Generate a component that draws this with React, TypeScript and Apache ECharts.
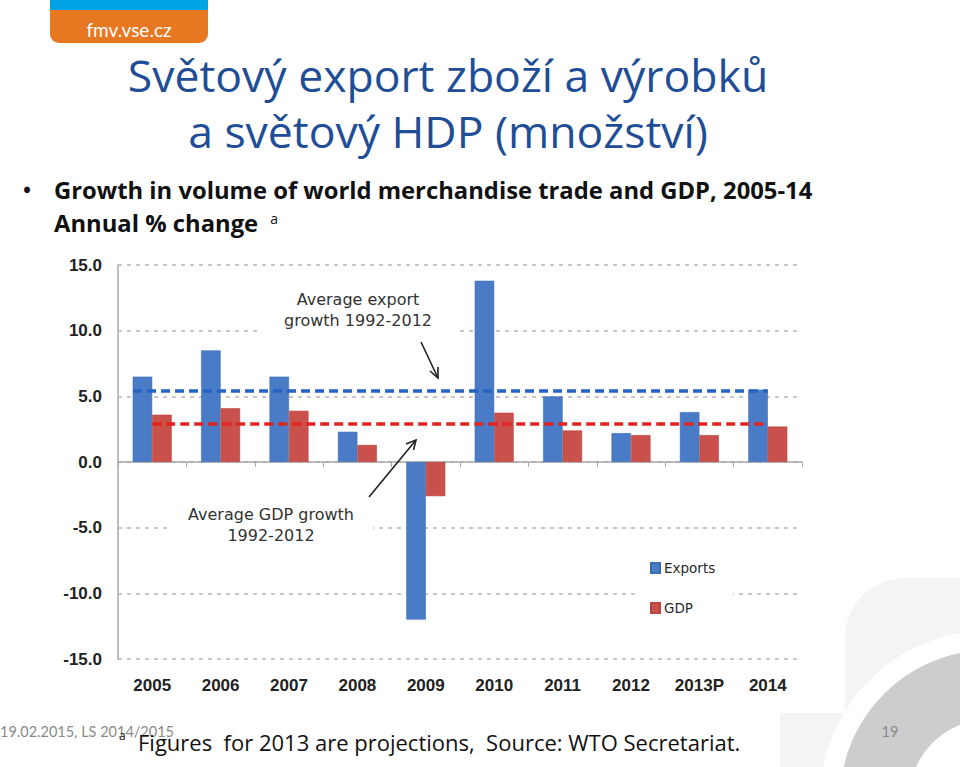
import React, { useEffect, useRef } from "react";
import * as echarts from "echarts";

const categories = ["2005", "2006", "2007", "2008", "2009", "2010", "2011", "2012", "2013P", "2014"];
const exportsGrowth = [6.5, 8.5, 6.5, 2.3, -12.0, 13.8, 5.0, 2.2, 3.8, 5.5];
const gdpGrowth = [3.6, 4.1, 3.9, 1.3, -2.6, 3.75, 2.4, 2.05, 2.05, 2.7];
const avgExportLine = [[-0.28, 5.4], [9.0, 5.4]];
const avgGdpLine = [[0.0, 2.9], [9.0, 2.9]];
const yMin = -15;
const yMax = 15;
const yStep = 5;

const BLUE = "#4a7bc6";
const RED = "#c9504b";
const CAL = "'Open Sans', Lato, sans-serif";
const LAT = "Lato, 'Open Sans', sans-serif";
const VER = "'DejaVu Sans', Verdana, sans-serif";

export default function App() {
  const ref = useRef<HTMLDivElement>(null);
  useEffect(() => {
    if (!ref.current) return;
    const chart = echarts.init(ref.current, null, { renderer: "svg" });
    const option: any = {
      animation: false,
      backgroundColor: "#ffffff",
      grid: { left: 118, right: 158, top: 265, bottom: 108, containLabel: false },
      legend: {
        orient: "vertical",
        left: 635,
        top: 546,
        padding: [15, 18, 12, 15],
        backgroundColor: "#ffffff",
        itemWidth: 9,
        itemHeight: 10,
        itemGap: 26,
        icon: "rect",
        z: 8,
        data: ["Exports", "GDP"],
        textStyle: { fontFamily: VER, fontSize: 13.5, color: "#2a2a2a", padding: [0, 0, 0, -1] },
      },
      xAxis: [
        {
          type: "category",
          data: categories,
          axisLine: { onZero: true, lineStyle: { color: "#a8a8a8", width: 1.5 } },
          axisTick: { show: true, length: 5, lineStyle: { color: "#a8a8a8" } },
          axisLabel: { show: false },
          splitLine: { show: false },
        },
        {
          type: "category",
          data: categories,
          position: "bottom",
          axisLine: { show: false, onZero: false },
          axisTick: { show: false },
          axisLabel: {
            show: true,
            margin: 18,
            fontFamily: "'Liberation Sans', Arial, sans-serif",
            fontWeight: "bold",
            fontSize: 17,
            color: "#222",
          },
        },
        { type: "value", min: -0.5, max: 9.5, show: false },
      ],
      yAxis: {
        type: "value",
        min: yMin,
        max: yMax,
        interval: yStep,
        axisLine: { show: true, onZero: false, lineStyle: { color: "#a8a8a8", width: 1.5 } },
        axisTick: { show: false },
        axisLabel: {
          margin: 16,
          fontFamily: "'Liberation Sans', Arial, sans-serif",
          fontWeight: "bold",
          fontSize: 17,
          color: "#222",
          formatter: (v: number) => v.toFixed(1),
        },
        splitLine: { show: true, lineStyle: { color: "#b5b5b5", width: 1.5, type: [4, 5] } },
      },
      series: [
        {
          name: "Exports",
          type: "bar",
          xAxisIndex: 0,
          data: exportsGrowth,
          barWidth: 19.5,
          barGap: "0%",
          itemStyle: { color: BLUE, borderColor: "#3d6db5", borderWidth: 0.6 },
          z: 2,
        },
        {
          name: "GDP",
          type: "bar",
          xAxisIndex: 0,
          data: gdpGrowth,
          barWidth: 19.5,
          barGap: "0%",
          itemStyle: { color: RED, borderColor: "#b84440", borderWidth: 0.6 },
          z: 2,
        },
        {
          name: "avgExport",
          type: "line",
          xAxisIndex: 2,
          data: avgExportLine,
          symbol: "none",
          lineStyle: { color: "#2563c4", width: 3.5, type: [9, 5] },
          z: 5,
        },
        {
          name: "avgGdp",
          type: "line",
          xAxisIndex: 2,
          data: avgGdpLine,
          symbol: "none",
          lineStyle: { color: "#e2231f", width: 3.5, type: [9, 5] },
          z: 5,
        },
      ],
      graphic: [
        // bottom-right decoration
        { type: "rect", shape: { x: 780, y: 713, width: 200, height: 80 }, style: { fill: "#f4f4f4" }, z: -10 },
        { type: "rect", shape: { x: 845, y: 578, width: 140, height: 220, r: [60, 0, 0, 0] }, style: { fill: "#f4f4f4" }, z: -10 },
        { type: "circle", shape: { cx: 990, cy: 800, r: 170 }, style: { fill: "#ffffff" }, z: -9 },
        { type: "ring", shape: { cx: 990, cy: 800, r: 150, r0: 81 }, style: { fill: "#cdcdcd" }, z: -8 },
        // white masks breaking the gridlines behind annotations and legend
        { type: "rect", z: 6, shape: { x: 258, y: 284, width: 200, height: 52 }, style: { fill: "#ffffff" } },
        { type: "rect", z: 6, shape: { x: 167, y: 500, width: 206, height: 50 }, style: { fill: "#ffffff" } },
        { type: "rect", z: 3, shape: { x: 635, y: 546, width: 92, height: 74 }, style: { fill: "#ffffff" } },
        // logo
        { type: "rect", shape: { x: 50, y: -10, width: 158, height: 53, r: 9 }, style: { fill: "#e87722" }, z: 10 },
        { type: "rect", shape: { x: 50, y: -10, width: 158, height: 20 }, style: { fill: "#00a3e4" }, z: 11 },
        {
          type: "text", x: 129, y: 29, z: 12,
          style: { text: "fmv.vse.cz", fill: "#ffffff", font: `19px ${LAT}`, align: "center", verticalAlign: "middle" },
        },
        // title
        {
          type: "text", x: 448, y: 74, z: 12,
          style: { text: "Světový export zboží a výrobků", fill: "#1f4e96", font: `44.5px ${CAL}`, align: "center", verticalAlign: "middle" },
        },
        {
          type: "text", x: 448, y: 130, z: 12,
          style: { text: "a světový HDP (množství)", fill: "#1f4e96", font: `44.5px ${CAL}`, align: "center", verticalAlign: "middle" },
        },
        // bullet
        {
          type: "text", x: 27, y: 189, z: 12,
          style: { text: "•", fill: "#111", font: `28px ${CAL}`, align: "center", verticalAlign: "middle" },
        },
        {
          type: "text", x: 54, y: 190, z: 12,
          style: { text: "Growth in volume of world merchandise trade and GDP, 2005-14", fill: "#111", font: `bold 23.8px ${CAL}`, align: "left", verticalAlign: "middle" },
        },
        {
          type: "text", x: 54, y: 223, z: 12,
          style: {
            text: "Annual % change {sup|a}",
            fill: "#111",
            font: `bold 23.8px ${CAL}`,
            align: "left",
            verticalAlign: "middle",
            rich: { sup: { fontSize: 14, fontWeight: "normal", fontFamily: CAL, verticalAlign: "top", padding: [0, 0, 10, 6], fill: "#111" } },
          },
        },
        // annotations
        {
          type: "text", x: 358, y: 310, z: 7,
          style: {
            text: "Average export\ngrowth 1992-2012",
            fill: "#333",
            font: `16px ${VER}`,
            lineHeight: 21,
            align: "center",
            verticalAlign: "middle",
          },
        },
        {
          type: "text", x: 271, y: 525, z: 7,
          style: {
            text: "Average GDP growth\n1992-2012",
            fill: "#333",
            font: `16px ${VER}`,
            lineHeight: 21,
            align: "center",
            verticalAlign: "middle",
          },
        },
        // arrows
        { type: "line", z: 7, shape: { x1: 421, y1: 342, x2: 438, y2: 378 }, style: { stroke: "#222", lineWidth: 1.6 } },
        { type: "polyline", z: 7, shape: { points: [[438, 367], [438, 378], [430, 371]] }, style: { stroke: "#222", lineWidth: 1.6, fill: null } },
        { type: "line", z: 7, shape: { x1: 369, y1: 497, x2: 416, y2: 440 }, style: { stroke: "#222", lineWidth: 1.6 } },
        { type: "polyline", z: 7, shape: { points: [[406, 444], [416, 440], [413.5, 450]] }, style: { stroke: "#222", lineWidth: 1.6, fill: null } },
        // footer
        {
          type: "text", x: 0, y: 731, z: 12,
          style: { text: "19.02.2015, LS 2014/2015", fill: "#8a8a8a", font: `14.5px ${LAT}`, align: "left", verticalAlign: "middle" },
        },
        {
          type: "text", x: 119, y: 735, z: 12,
          style: { text: "a", fill: "#111", font: `12px ${CAL}`, align: "left", verticalAlign: "middle" },
        },
        {
          type: "text", x: 138, y: 742, z: 12,
          style: { text: "Figures  for 2013 are projections,  Source: WTO Secretariat.", fill: "#111", font: `22px ${CAL}`, align: "left", verticalAlign: "middle" },
        },
        {
          type: "text", x: 890, y: 731, z: 12,
          style: { text: "19", fill: "#8a8a8a", font: `14.5px ${LAT}`, align: "center", verticalAlign: "middle" },
        },
      ],
    };
    chart.setOption(option);
    return () => chart.dispose();
  }, []);
  return (
    <div
      ref={ref}
      style={{ position: "absolute", left: 0, top: 0, width: 960, height: 767 }}
    />
  );
}
